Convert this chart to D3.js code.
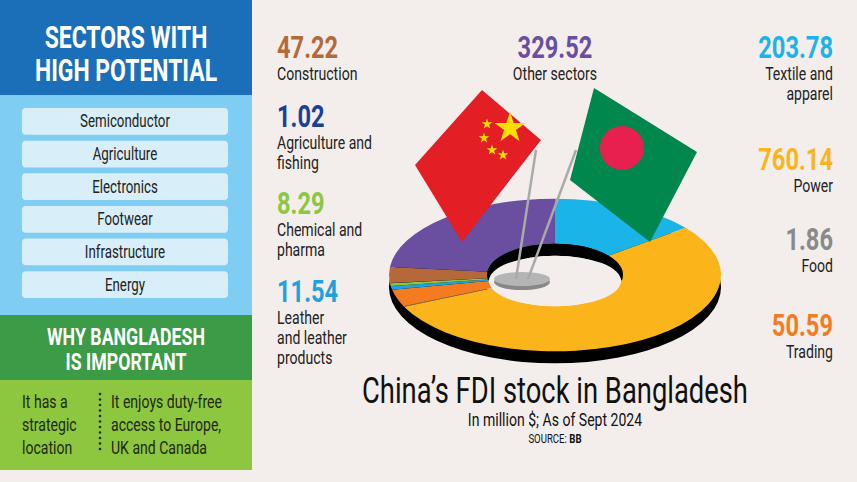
<!DOCTYPE html><html><head><meta charset="utf-8"><script src="https://cdn.jsdelivr.net/npm/d3@7"></script>
<style>body{margin:0;background:#f3eeec}svg{display:block}text{font-family:"Roboto",sans-serif}</style></head><body><svg id="c" width="857" height="482"></svg>
<script>
const sectors=["Textile and apparel","Power","Food","Trading","Leather and leather products","Chemical and pharma","Agriculture and fishing","Construction","Other sectors"];
const values=[203.78,760.14,1.86,50.59,11.54,8.29,1.02,47.22,329.52];
const colors=["#1ab4e8","#fbb51a","#9a9a9a","#f47b20","#1ea1dd","#8dc63f","#1b3f95","#b5693a","#6a4ea0"];
const potential=["Semiconductor","Agriculture","Electronics","Footwear","Infrastructure","Energy"];
const svg=d3.select("#c");
svg.append("rect").attr("width",857).attr("height",482).attr("fill","#f3eeec");
svg.append("rect").attr("x",0).attr("y",0).attr("width",252).attr("height",95).attr("fill","#1a6fb8");
svg.append("rect").attr("x",0).attr("y",95).attr("width",252).attr("height",220).attr("fill","#7fcdf3");
svg.append("rect").attr("x",0).attr("y",315).attr("width",252).attr("height",65).attr("fill","#3b9b47");
svg.append("rect").attr("x",0).attr("y",380).attr("width",252).attr("height",90).attr("fill","#8dc63f");
const L=svg.append("g").attr("text-anchor","middle").attr("fill","#fff").attr("font-weight","bold");
L.append("text").attr("x",126).attr("y",48).attr("font-size",31).text("SECTORS WITH");
L.append("text").attr("x",126).attr("y",81).attr("font-size",31).text("HIGH POTENTIAL");
const py=d3.scaleBand().domain(potential).range([108,298]).paddingInner(0.18);
potential.forEach(p=>{
 svg.append("rect").attr("x",22).attr("y",py(p)).attr("width",206).attr("height",py.bandwidth()).attr("rx",4).attr("fill","#d8eef9");
 svg.append("text").attr("x",125).attr("y",py(p)+py.bandwidth()/2+6).attr("text-anchor","middle").attr("font-size",18).attr("fill","#222").text(p);
});
L.append("text").attr("x",126).attr("y",345).attr("font-size",24).text("WHY BANGLADESH");
L.append("text").attr("x",126).attr("y",370).attr("font-size",24).text("IS IMPORTANT");
const a=["It has a","strategic","location"],b=["It enjoys duty-free","access to Europe,","UK and Canada"];
a.forEach((t,i)=>svg.append("text").attr("x",22).attr("y",408+i*23).attr("font-size",19).attr("fill","#1d2a10").text(t));
b.forEach((t,i)=>svg.append("text").attr("x",111).attr("y",408+i*23).attr("font-size",19).attr("fill","#1d2a10").text(t));
for(let i=0;i<11;i++)svg.append("circle").attr("cx",100).attr("cy",394+i*5.5).attr("r",1.3).attr("fill","#1d2a10");
const cx=555,cy=275,R=166,r=68,sy=0.46;
const pie=d3.pie().sort(null)(values);
const arc=d3.arc().innerRadius(r).outerRadius(R);
const gd=svg.append("g").attr("transform",`translate(${cx},${cy+12}) scale(1,${sy})`);
gd.append("path").attr("d",d3.arc().innerRadius(r).outerRadius(R).startAngle(0).endAngle(2*Math.PI)()).attr("fill","#000");
const g=svg.append("g").attr("transform",`translate(${cx},${cy}) scale(1,${sy})`);
g.selectAll("path").data(pie).join("path").attr("d",arc).attr("fill",(d,i)=>colors[i]);
svg.append("ellipse").attr("cx",cx).attr("cy",cy+6).attr("rx",r-2).attr("ry",r*sy-6).attr("fill","#f3eeec");
svg.append("path").attr("d",`M${cx-r},${cy} A${r},${r*sy} 0 0 1 ${cx+r},${cy} A${r},${r*sy-6} 0 0 0 ${cx-r},${cy}`).attr("fill","#000");
svg.append("ellipse").attr("cx",522).attr("cy",282).attr("rx",28).attr("ry",8).attr("fill","#888");
svg.append("ellipse").attr("cx",522).attr("cy",279).attr("rx",28).attr("ry",7).attr("fill","#b5b5b5");
svg.append("line").attr("x1",516).attr("y1",279).attr("x2",536).attr("y2",150).attr("stroke","#aaa").attr("stroke-width",2.5);
svg.append("line").attr("x1",528).attr("y1",279).attr("x2",576).attr("y2",150).attr("stroke","#aaa").attr("stroke-width",2.5);
svg.append("path").attr("d","M415,165 L482,90 L541,140 L462,242 Z").attr("fill","#e31e24");
const star=(s)=>d3.symbol().type(d3.symbolStar).size(s)();
[[510,128,300],[487,124,35],[484,138,35],[492,150,35],[503,155,35]].forEach(([x,y,s])=>svg.append("path").attr("d",star(s)).attr("transform",`translate(${x},${y})`).attr("fill","#ffde00"));
svg.append("path").attr("d","M570,180 L594,88 L697,152 L650,242 Z").attr("fill","#00874e");
svg.append("ellipse").attr("cx",622).attr("cy",148).attr("rx",22).attr("ry",22).attr("fill","#e8204f");
function lab(x,y,anchor,val,col,lines){
 svg.append("text").attr("x",x).attr("y",y).attr("text-anchor",anchor).attr("font-size",32).attr("font-weight","bold").attr("fill",col).text(val);
 lines.forEach((t,i)=>svg.append("text").attr("x",x).attr("y",y+22+i*20).attr("text-anchor",anchor).attr("font-size",19).attr("fill","#222").text(t));
}
lab(277,58,"start",values[7].toFixed(2),colors[7],["Construction"]);
lab(277,127,"start",values[6].toFixed(2),colors[6],["Agriculture and","fishing"]);
lab(277,214,"start",values[5].toFixed(2),colors[5],["Chemical and","pharma"]);
lab(277,302,"start",values[4].toFixed(2),colors[4],["Leather","and leather","products"]);
lab(555,58,"middle",values[8].toFixed(2),colors[8],["Other sectors"]);
lab(833,58,"end",values[0].toFixed(2),colors[0],["Textile and","apparel"]);
lab(833,170,"end",values[1].toFixed(2),colors[1],["Power"]);
lab(833,250,"end",values[2].toFixed(2),"#8a8a8a",["Food"]);
lab(833,336,"end",values[3].toFixed(2),colors[3],["Trading"]);
svg.append("text").attr("x",555).attr("y",403).attr("text-anchor","middle").attr("font-size",37).attr("fill","#111").text("China’s FDI stock in Bangladesh");
svg.append("text").attr("x",555).attr("y",426).attr("text-anchor","middle").attr("font-size",19).attr("fill","#111").text("In million $; As of Sept 2024");
const s=svg.append("text").attr("x",555).attr("y",443).attr("text-anchor","middle").attr("font-size",13).attr("fill","#111");
s.append("tspan").text("SOURCE: ");s.append("tspan").attr("font-weight","bold").text("BB");
// condense all text horizontally around its anchor x
svg.selectAll("text").each(function(){const x=+this.getAttribute("x");this.setAttribute("transform",`translate(${x},0) scale(0.74,1) translate(${-x},0)`);});
</script></body></html>
